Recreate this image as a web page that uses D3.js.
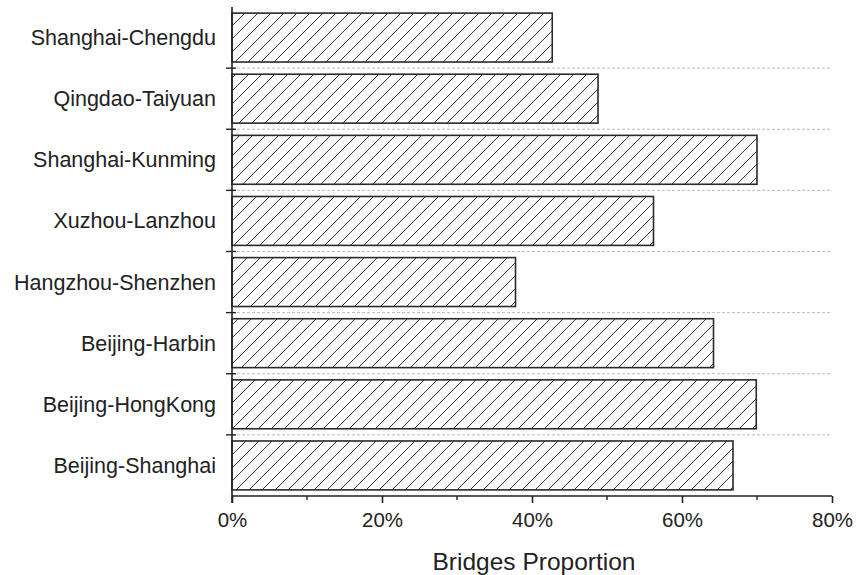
<!DOCTYPE html>
<html>
<head>
<meta charset="utf-8">
<script src="https://cdn.jsdelivr.net/npm/d3@7"></script>
<style>
  html, body { margin: 0; padding: 0; background: #fff; }
  svg { display: block; }
  text { font-family: "Liberation Sans", Arial, sans-serif; fill: #222; }
</style>
</head>
<body>
<svg id="chart" width="858" height="575"></svg>
<script>
// Railway lines, top to bottom
const lines = [
  "Shanghai-Chengdu",
  "Qingdao-Taiyuan",
  "Shanghai-Kunming",
  "Xuzhou-Lanzhou",
  "Hangzhou-Shenzhen",
  "Beijing-Harbin",
  "Beijing-HongKong",
  "Beijing-Shanghai"
];
// Share of each line's length on bridges (%)
const bridgeShare = [42.7, 48.8, 70.0, 56.2, 37.8, 64.2, 69.9, 66.8];
const xTicks = [0, 20, 40, 60, 80];
const xMinorTicks = [10, 30, 50, 70];
const xTitle = "Bridges Proportion";

const svg = d3.select("#chart");
const plotLeft = 232, plotRight = 832, plotTop = 7, plotBottom = 496;

const x = d3.scaleLinear().domain([0, 80]).range([plotLeft, plotRight]);
const y = d3.scaleBand().domain(lines).range([plotTop, plotBottom]).paddingInner(0.2).paddingOuter(0.1);

// Diagonal hatch fill
const defs = svg.append("defs");
const pat = defs.append("pattern")
  .attr("id", "hatch")
  .attr("patternUnits", "userSpaceOnUse")
  .attr("width", 13).attr("height", 13)
  .attr("patternTransform", "translate(" + plotLeft + ",0)");
pat.append("rect").attr("width", 13).attr("height", 13).attr("fill", "#fff");
pat.append("path")
  .attr("d", "M-1,1 l2,-2 M0,13 l13,-13 M12,14 l2,-2")
  .attr("stroke", "#333").attr("stroke-width", 1);

// Dashed separators between categories
const boundaries = lines.slice(1).map(d => y(d) - y.step() * y.paddingInner() / 2);
svg.append("g").selectAll("line").data(boundaries).join("line")
  .attr("x1", plotLeft).attr("x2", plotRight)
  .attr("y1", d => d).attr("y2", d => d)
  .attr("stroke", "#bbb").attr("stroke-width", 1)
  .attr("stroke-dasharray", "3,2");

// Bars
svg.append("g").selectAll("rect").data(lines).join("rect")
  .attr("x", x(0))
  .attr("y", d => y(d))
  .attr("width", (d, i) => x(bridgeShare[i]) - x(0))
  .attr("height", y.bandwidth())
  .attr("fill", "url(#hatch)")
  .attr("stroke", "#2a2a2a")
  .attr("stroke-width", 1.6);

// Category separator ticks on the y axis
svg.append("g").selectAll("line").data(boundaries).join("line")
  .attr("x1", plotLeft - 6).attr("x2", plotLeft + 4)
  .attr("y1", d => d).attr("y2", d => d)
  .attr("stroke", "#222").attr("stroke-width", 1.4);

// Y axis line
svg.append("line")
  .attr("x1", plotLeft).attr("x2", plotLeft)
  .attr("y1", plotTop).attr("y2", plotBottom + 7)
  .attr("stroke", "#222").attr("stroke-width", 1.6);

// Category labels
svg.append("g").selectAll("text").data(lines).join("text")
  .attr("x", 216)
  .attr("y", d => y(d) + y.bandwidth() / 2)
  .attr("dy", "0.35em")
  .attr("text-anchor", "end")
  .style("font-size", "21.5px")
  .text(d => d);

// X axis
const xAxis = svg.append("g").attr("transform", "translate(0," + plotBottom + ")");
xAxis.call(d3.axisBottom(x).tickValues(xTicks).tickSize(7).tickFormat(d => d + "%"));
xAxis.select(".domain").attr("stroke", "#222").attr("stroke-width", 1.6).attr("d", "M" + plotLeft + ",0H" + plotRight);
xAxis.selectAll(".tick line").attr("stroke", "#222").attr("stroke-width", 1.6);
xAxis.selectAll(".tick text")
  .attr("y", 16)
  .style("font-size", "20.5px")
  .style("font-family", "'Liberation Sans', Arial, sans-serif")
  .attr("fill", "#222");
xAxis.selectAll(".minor").data(xMinorTicks).join("line")
  .attr("class", "minor")
  .attr("x1", d => x(d)).attr("x2", d => x(d))
  .attr("y1", 0).attr("y2", 4)
  .attr("stroke", "#222").attr("stroke-width", 1.4);

// X axis title
svg.append("text")
  .attr("x", 534)
  .attr("y", 570)
  .attr("text-anchor", "middle")
  .style("font-size", "24.5px")
  .text(xTitle);
</script>
</body>
</html>
